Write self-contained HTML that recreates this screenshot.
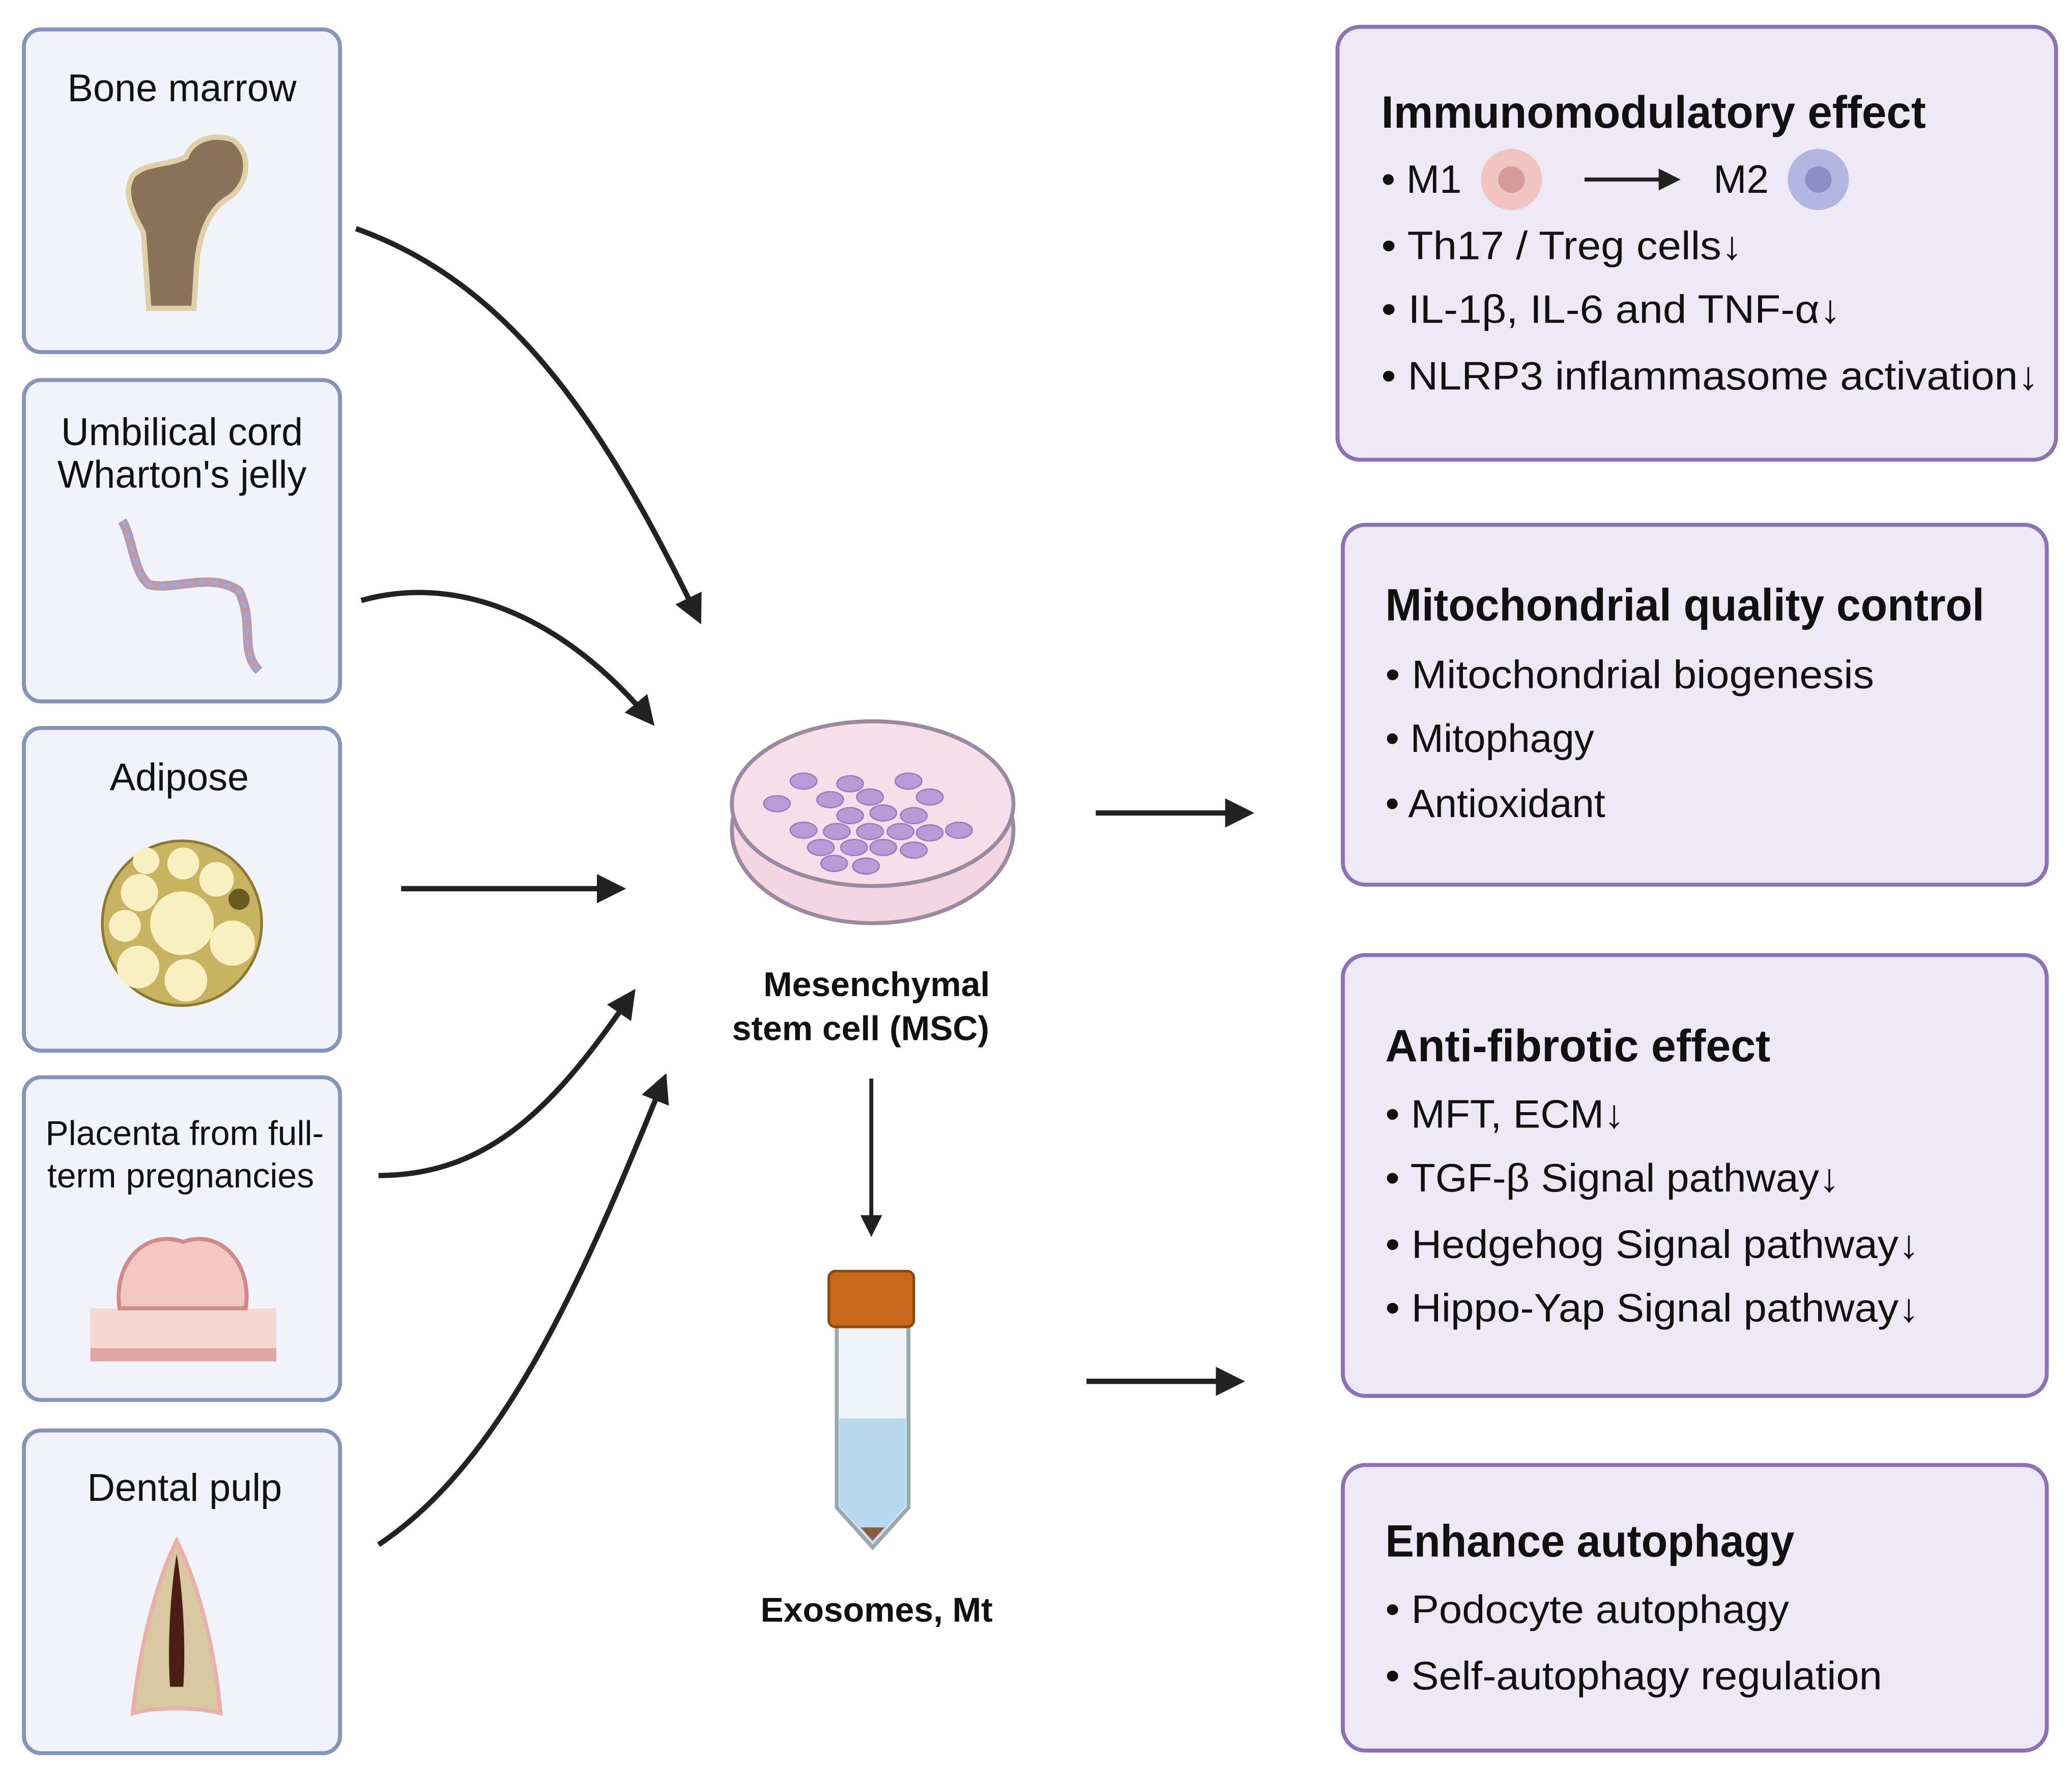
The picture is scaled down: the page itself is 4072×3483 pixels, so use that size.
<!DOCTYPE html>
<html><head><meta charset="utf-8"><style>
html,body{margin:0;padding:0;background:#fff;}
svg{display:block;}
text{font-family:"Liberation Sans",sans-serif;fill:#111;}
.t{font-size:29px;}
.h{font-size:34px;font-weight:bold;}
.r{font-size:30px;}
</style></head><body>
<svg width="4072" height="3483" viewBox="0 0 1560 1334" xmlns="http://www.w3.org/2000/svg">
<defs>
<marker id="a" viewBox="0 0 10 10" refX="8" refY="5" markerWidth="5.5" markerHeight="5.5" orient="auto"><path d="M0,0 L10,5 L0,10 z" fill="#222"/></marker>
</defs>
<g fill="#f1f3fa" stroke="#8494bd" stroke-width="3">
<rect x="18" y="22" width="238" height="243" rx="13"/>
<rect x="18" y="286" width="238" height="242" rx="13"/>
<rect x="18" y="548" width="238" height="243" rx="13"/>
<rect x="18" y="811" width="238" height="243" rx="13"/>
<rect x="18" y="1077" width="238" height="243" rx="13"/>
</g>
<text class="t" x="137" y="76" text-anchor="middle">Bone marrow</text>
<text class="t" x="137" y="335" text-anchor="middle">Umbilical cord</text>
<text class="t" x="137" y="367" text-anchor="middle">Wharton's jelly</text>
<text class="t" x="135" y="595" text-anchor="middle">Adipose</text>
<text x="139" y="862" text-anchor="middle" style="font-size:26px">Placenta from full-</text>
<text x="136" y="894" text-anchor="middle" style="font-size:26px">term pregnancies</text>
<text class="t" x="139" y="1130" text-anchor="middle">Dental pulp</text>
<path d="M112,232 L108,175 C100,160 92,145 100,132 C110,122 125,125 140,118 C145,105 160,100 175,105 C190,115 188,140 170,150 C158,158 150,175 148,200 L146,232 Z" fill="#8a7258" stroke="#e0d0a8" stroke-width="4"/>
<path d="M92,392 C100,405 100,430 112,440 C130,445 160,430 180,445 C192,470 180,490 195,505" fill="none" stroke="#b89aaa" stroke-width="7"/>
<path d="M92,392 C100,405 100,430 112,440 C130,445 160,430 180,445 C192,470 180,490 195,505" fill="none" stroke="#a0a8d8" stroke-width="3" stroke-dasharray="5 5"/>
<ellipse cx="137" cy="695" rx="60" ry="62" fill="#c8b460" stroke="#8a7a30" stroke-width="2"/>
<g fill="#f8f0c0"><circle cx="137" cy="695" r="24"/><circle cx="105" cy="672" r="14"/><circle cx="138" cy="650" r="12"/><circle cx="163" cy="662" r="13"/><circle cx="175" cy="710" r="17"/><circle cx="140" cy="738" r="16"/><circle cx="104" cy="728" r="16"/><circle cx="94" cy="697" r="12"/><circle cx="110" cy="648" r="10"/></g>
<circle cx="180" cy="677" r="8" fill="#6a5a20"/>
<rect x="68" y="985" width="140" height="40" fill="#f5d8d0"/>
<rect x="68" y="1015" width="140" height="10" fill="#e0a8a0"/>
<path d="M90,985 C85,950 110,925 138,935 C165,925 190,950 185,985 Z" fill="#f3c8c0" stroke="#d08a88" stroke-width="3"/>
<path d="M100,1290 C105,1240 118,1190 133,1160 C148,1190 162,1240 166,1290 C150,1285 115,1285 100,1290Z" fill="#d8c8a0" stroke="#e8b0a8" stroke-width="3"/>
<path d="M133,1170 C128,1200 126,1240 128,1270 L138,1270 C140,1240 138,1200 133,1170Z" fill="#4a1e14"/>
<g fill="none" stroke-width="4" marker-end="url(#a)">
<path d="M268,172 C390,215 460,330 526,466" stroke="#222"/>
<path d="M272,452 C350,430 430,470 490,543" stroke="#222"/>
<path d="M302,669 L467,669" stroke="#222"/>
<path d="M285,885 C370,885 420,830 476,748" stroke="#222"/>
<path d="M285,1163 C380,1100 440,960 500,812" stroke="#222"/>
<path d="M825,612 L940,612" stroke="#222"/>
<path d="M818,1040 L933,1040" stroke="#222"/>
<path d="M656,812 L656,928" stroke="#222" stroke-width="3"/>
</g>
<ellipse cx="657" cy="625" rx="106" ry="70" fill="#f3d6e2" stroke="#9a8aa0" stroke-width="3"/>
<ellipse cx="657" cy="605" rx="106" ry="62" fill="#f6dfe9" stroke="#9a8aa0" stroke-width="3"/>
<g fill="#b99ad6" stroke="#9b7ac0" stroke-width="1">
<ellipse cx="605" cy="588" rx="10" ry="6"/><ellipse cx="640" cy="590" rx="10" ry="6"/><ellipse cx="684" cy="588" rx="10" ry="6"/>
<ellipse cx="585" cy="605" rx="10" ry="6"/><ellipse cx="625" cy="602" rx="10" ry="6"/><ellipse cx="655" cy="600" rx="10" ry="6"/><ellipse cx="700" cy="600" rx="10" ry="6"/>
<ellipse cx="640" cy="614" rx="10" ry="6"/><ellipse cx="665" cy="612" rx="10" ry="6"/><ellipse cx="688" cy="614" rx="10" ry="6"/>
<ellipse cx="605" cy="625" rx="10" ry="6"/><ellipse cx="630" cy="626" rx="10" ry="6"/><ellipse cx="655" cy="626" rx="10" ry="6"/><ellipse cx="678" cy="626" rx="10" ry="6"/><ellipse cx="700" cy="627" rx="10" ry="6"/><ellipse cx="722" cy="625" rx="10" ry="6"/>
<ellipse cx="618" cy="638" rx="10" ry="6"/><ellipse cx="643" cy="638" rx="10" ry="6"/><ellipse cx="665" cy="638" rx="10" ry="6"/><ellipse cx="688" cy="640" rx="10" ry="6"/>
<ellipse cx="628" cy="650" rx="10" ry="6"/><ellipse cx="652" cy="652" rx="10" ry="6"/>
</g>
<text x="660" y="750" text-anchor="middle" style="font-size:26px;font-weight:bold">Mesenchymal</text>
<text x="648" y="783" text-anchor="middle" style="font-size:26px;font-weight:bold">stem cell (MSC)</text>
<path d="M630,998 L684,998 L684,1135 L657,1165 L630,1135 Z" fill="#eef4fa" stroke="#9aa" stroke-width="3"/>
<path d="M632,1068 L682,1068 L682,1134 L657,1162 L632,1134 Z" fill="#b8d8ee"/>
<path d="M648,1150 L666,1150 L657,1160 Z" fill="#8a5a3a"/>
<rect x="624" y="957" width="64" height="42" rx="5" fill="#c8681a" stroke="#8a4a10" stroke-width="2"/>
<text x="660" y="1221" text-anchor="middle" style="font-size:26px;font-weight:bold">Exosomes, Mt</text>
<g fill="#ede8f4" stroke="#8a72b4" stroke-width="3">
<rect x="1007" y="20" width="541" height="326" rx="17"/>
<rect x="1011" y="395" width="530" height="271" rx="17"/>
<rect x="1011" y="719" width="530" height="332" rx="17"/>
<rect x="1011" y="1103" width="530" height="215" rx="17"/>
</g>
<text class="h" x="1040" y="96" textLength="410" lengthAdjust="spacingAndGlyphs">Immunomodulatory effect</text>
<text class="r" x="1040" y="145">• M1</text>
<circle cx="1138" cy="135" r="23" fill="#f0c4bf"/><circle cx="1138" cy="135" r="10" fill="#d69a98"/>
<path d="M1193,135 L1262,135" stroke="#222" stroke-width="3" marker-end="url(#a)"/>
<text class="r" x="1290" y="145">M2</text>
<circle cx="1369" cy="135" r="23" fill="#b2b6e0"/><circle cx="1369" cy="135" r="10" fill="#8c8ec8"/>
<text class="r" x="1040" y="195" textLength="272" lengthAdjust="spacingAndGlyphs">• Th17 / Treg cells↓</text>
<text class="r" x="1040" y="243" textLength="346" lengthAdjust="spacingAndGlyphs">• IL-1β,  IL-6 and TNF-α↓</text>
<text class="r" x="1040" y="293" textLength="495" lengthAdjust="spacingAndGlyphs">• NLRP3 inflammasome activation↓</text>
<text class="h" x="1043" y="467" textLength="451" lengthAdjust="spacingAndGlyphs">Mitochondrial quality control</text>
<text class="r" x="1043" y="518" textLength="368" lengthAdjust="spacingAndGlyphs">• Mitochondrial biogenesis</text>
<text class="r" x="1043" y="566">• Mitophagy</text>
<text class="r" x="1043" y="615">• Antioxidant</text>
<text class="h" x="1043" y="799" textLength="290" lengthAdjust="spacingAndGlyphs">Anti-fibrotic effect</text>
<text class="r" x="1043" y="849" textLength="180" lengthAdjust="spacingAndGlyphs">• MFT, ECM↓</text>
<text class="r" x="1043" y="897" textLength="342" lengthAdjust="spacingAndGlyphs">• TGF-β Signal pathway↓</text>
<text class="r" x="1043" y="947" textLength="402" lengthAdjust="spacingAndGlyphs">• Hedgehog Signal pathway↓</text>
<text class="r" x="1043" y="995" textLength="402" lengthAdjust="spacingAndGlyphs">• Hippo-Yap Signal pathway↓</text>
<text class="h" x="1043" y="1172" textLength="308" lengthAdjust="spacingAndGlyphs">Enhance autophagy</text>
<text class="r" x="1043" y="1222" textLength="304" lengthAdjust="spacingAndGlyphs">• Podocyte autophagy</text>
<text class="r" x="1043" y="1272" textLength="374" lengthAdjust="spacingAndGlyphs">• Self-autophagy regulation</text>
</svg>
</body></html>
